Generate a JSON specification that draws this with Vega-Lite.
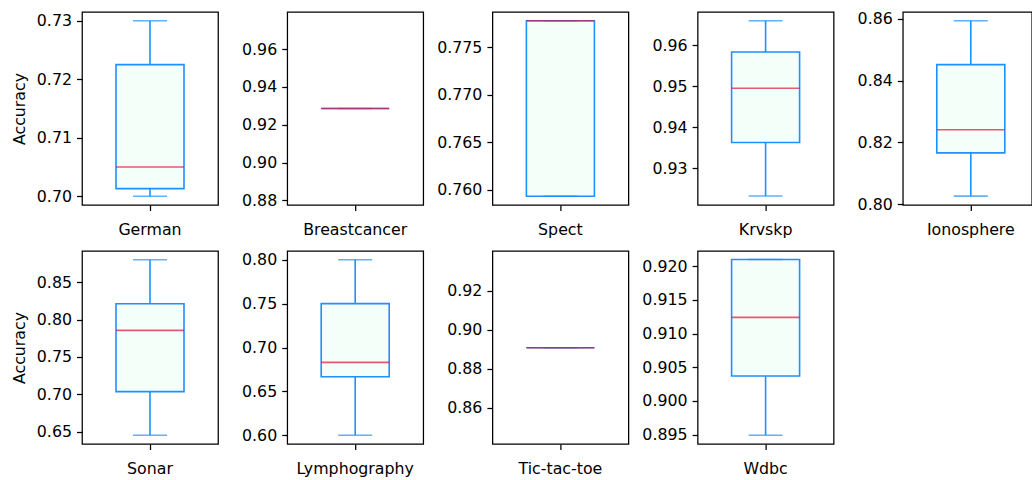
{
  "$schema": "https://vega.github.io/schema/vega-lite/v6.json",
  "background": "white",
  "padding": {"left": 10, "top": 10, "right": 0, "bottom": 0},
  "data": {"values": [
    {"dataset": "German", "min": 0.700, "q1": 0.7013, "median": 0.705, "q3": 0.7225, "max": 0.730},
    {"dataset": "Breastcancer", "min": 0.9286, "q1": 0.9286, "median": 0.9286, "q3": 0.9286, "max": 0.9286},
    {"dataset": "Spect", "min": 0.7593, "q1": 0.7593, "median": 0.7778, "q3": 0.7778, "max": 0.7778},
    {"dataset": "Krvskp", "min": 0.9233, "q1": 0.9363, "median": 0.9495, "q3": 0.9583, "max": 0.9659},
    {"dataset": "Ionosphere", "min": 0.8026, "q1": 0.8166, "median": 0.8241, "q3": 0.8452, "max": 0.8594},
    {"dataset": "Sonar", "min": 0.6452, "q1": 0.7036, "median": 0.7855, "q3": 0.8211, "max": 0.8800},
    {"dataset": "Lymphography", "min": 0.600, "q1": 0.6667, "median": 0.6830, "q3": 0.7500, "max": 0.800},
    {"dataset": "Tic-tac-toe", "min": 0.8907, "q1": 0.8907, "median": 0.8907, "q3": 0.8907, "max": 0.8907},
    {"dataset": "Wdbc", "min": 0.8949, "q1": 0.9037, "median": 0.9124, "q3": 0.9210, "max": 0.9210}
  ]},
  "config": {
    "view": {"stroke": "#000000", "strokeWidth": 1.26},
    "font": "DejaVu Sans",
    "axis": {"labelFont": "DejaVu Sans", "labelFontSize": 15.8, "labelColor": "#000000", "tickColor": "#000000", "tickSize": 5.5, "tickWidth": 1.26, "domain": false, "grid": false, "labelPadding": 5, "titleFont": "DejaVu Sans", "titleFontSize": 15.8, "titleFontWeight": "normal", "titleColor": "#000000", "titlePadding": 9},
    "axisX": {"labelPadding": 12}
  },
  "bounds": "flush",
  "align": "each",
  "columns": 5,
  "spacing": {"row": 46, "column": 69.2},
  "concat": [
      {"width": 136, "height": 193, "transform": [{"filter": "datum.dataset === 'German'"}],
       "encoding": {"x": {"field": "dataset", "type": "nominal", "scale": {"paddingInner": 0, "paddingOuter": 0}, "axis": {"title": null, "labelAngle": 0}}},
       "layer": [
        {"mark": {"type": "rule", "color": "#1E90FF", "strokeWidth": 1.6}, "encoding": {"y": {"field": "min", "type": "quantitative", "title": "Accuracy", "scale": {"domain": [0.6985, 0.7315], "zero": false, "nice": false}, "axis": {"values": [0.70, 0.71, 0.72, 0.73], "format": ".2f"}}, "y2": {"field": "q1"}}},
        {"mark": {"type": "rule", "color": "#1E90FF", "strokeWidth": 1.6}, "encoding": {"y": {"field": "q3", "type": "quantitative", "title": "Accuracy", "scale": {"domain": [0.6985, 0.7315], "zero": false, "nice": false}, "axis": {"values": [0.70, 0.71, 0.72, 0.73], "format": ".2f"}}, "y2": {"field": "max"}}},
        {"mark": {"type": "bar", "width": {"band": 0.5}, "fill": "#F5FFFA", "stroke": "#1E90FF", "strokeWidth": 1.6}, "encoding": {"y": {"field": "q1", "type": "quantitative", "title": "Accuracy", "scale": {"domain": [0.6985, 0.7315], "zero": false, "nice": false}, "axis": {"values": [0.70, 0.71, 0.72, 0.73], "format": ".2f"}}, "y2": {"field": "q3"}}},
        {"mark": {"type": "tick", "color": "#1E90FF", "size": 34, "thickness": 1.6}, "encoding": {"y": {"field": "min", "type": "quantitative", "title": "Accuracy", "scale": {"domain": [0.6985, 0.7315], "zero": false, "nice": false}, "axis": {"values": [0.70, 0.71, 0.72, 0.73], "format": ".2f"}}}},
        {"mark": {"type": "tick", "color": "#1E90FF", "size": 34, "thickness": 1.6}, "encoding": {"y": {"field": "max", "type": "quantitative", "title": "Accuracy", "scale": {"domain": [0.6985, 0.7315], "zero": false, "nice": false}, "axis": {"values": [0.70, 0.71, 0.72, 0.73], "format": ".2f"}}}},
        {"mark": {"type": "tick", "color": "#DC143C", "size": 68, "thickness": 1.6}, "encoding": {"y": {"field": "median", "type": "quantitative", "title": "Accuracy", "scale": {"domain": [0.6985, 0.7315], "zero": false, "nice": false}, "axis": {"values": [0.70, 0.71, 0.72, 0.73], "format": ".2f"}}}}
       ]},
      {"width": 136, "height": 193, "transform": [{"filter": "datum.dataset === 'Breastcancer'"}],
       "encoding": {"x": {"field": "dataset", "type": "nominal", "scale": {"paddingInner": 0, "paddingOuter": 0}, "axis": {"title": null, "labelAngle": 0}}},
       "layer": [
        {"mark": {"type": "bar", "width": {"band": 0.5}, "fill": "#F5FFFA", "stroke": "#1E90FF", "strokeWidth": 1.6}, "encoding": {"y": {"field": "q1", "type": "quantitative", "title": null, "scale": {"domain": [0.8775, 0.9797], "zero": false, "nice": false}, "axis": {"values": [0.88, 0.90, 0.92, 0.94, 0.96], "format": ".2f"}}, "y2": {"field": "q3"}}},
        {"mark": {"type": "tick", "color": "#1E90FF", "size": 34, "thickness": 1.6}, "encoding": {"y": {"field": "min", "type": "quantitative", "title": null, "scale": {"domain": [0.8775, 0.9797], "zero": false, "nice": false}, "axis": {"values": [0.88, 0.90, 0.92, 0.94, 0.96], "format": ".2f"}}}},
        {"mark": {"type": "tick", "color": "#DC143C", "size": 68, "thickness": 1.6}, "encoding": {"y": {"field": "median", "type": "quantitative", "title": null, "scale": {"domain": [0.8775, 0.9797], "zero": false, "nice": false}, "axis": {"values": [0.88, 0.90, 0.92, 0.94, 0.96], "format": ".2f"}}}}
       ]},
      {"width": 136, "height": 193, "transform": [{"filter": "datum.dataset === 'Spect'"}],
       "encoding": {"x": {"field": "dataset", "type": "nominal", "scale": {"paddingInner": 0, "paddingOuter": 0}, "axis": {"title": null, "labelAngle": 0}}},
       "layer": [
        {"mark": {"type": "bar", "width": {"band": 0.5}, "fill": "#F5FFFA", "stroke": "#1E90FF", "strokeWidth": 1.6}, "encoding": {"y": {"field": "q1", "type": "quantitative", "title": null, "scale": {"domain": [0.75838, 0.77872], "zero": false, "nice": false}, "axis": {"values": [0.760, 0.765, 0.770, 0.775], "format": ".3f"}}, "y2": {"field": "q3"}}},
        {"mark": {"type": "tick", "color": "#1E90FF", "size": 34, "thickness": 1.6}, "encoding": {"y": {"field": "min", "type": "quantitative", "title": null, "scale": {"domain": [0.75838, 0.77872], "zero": false, "nice": false}, "axis": {"values": [0.760, 0.765, 0.770, 0.775], "format": ".3f"}}}},
        {"mark": {"type": "tick", "color": "#1E90FF", "size": 34, "thickness": 1.6}, "encoding": {"y": {"field": "max", "type": "quantitative", "title": null, "scale": {"domain": [0.75838, 0.77872], "zero": false, "nice": false}, "axis": {"values": [0.760, 0.765, 0.770, 0.775], "format": ".3f"}}}},
        {"mark": {"type": "tick", "color": "#DC143C", "size": 68, "thickness": 1.6}, "encoding": {"y": {"field": "median", "type": "quantitative", "title": null, "scale": {"domain": [0.75838, 0.77872], "zero": false, "nice": false}, "axis": {"values": [0.760, 0.765, 0.770, 0.775], "format": ".3f"}}}}
       ]},
      {"width": 136, "height": 193, "transform": [{"filter": "datum.dataset === 'Krvskp'"}],
       "encoding": {"x": {"field": "dataset", "type": "nominal", "scale": {"paddingInner": 0, "paddingOuter": 0}, "axis": {"title": null, "labelAngle": 0}}},
       "layer": [
        {"mark": {"type": "rule", "color": "#1E90FF", "strokeWidth": 1.6}, "encoding": {"y": {"field": "min", "type": "quantitative", "title": null, "scale": {"domain": [0.92112, 0.96803], "zero": false, "nice": false}, "axis": {"values": [0.93, 0.94, 0.95, 0.96], "format": ".2f"}}, "y2": {"field": "q1"}}},
        {"mark": {"type": "rule", "color": "#1E90FF", "strokeWidth": 1.6}, "encoding": {"y": {"field": "q3", "type": "quantitative", "title": null, "scale": {"domain": [0.92112, 0.96803], "zero": false, "nice": false}, "axis": {"values": [0.93, 0.94, 0.95, 0.96], "format": ".2f"}}, "y2": {"field": "max"}}},
        {"mark": {"type": "bar", "width": {"band": 0.5}, "fill": "#F5FFFA", "stroke": "#1E90FF", "strokeWidth": 1.6}, "encoding": {"y": {"field": "q1", "type": "quantitative", "title": null, "scale": {"domain": [0.92112, 0.96803], "zero": false, "nice": false}, "axis": {"values": [0.93, 0.94, 0.95, 0.96], "format": ".2f"}}, "y2": {"field": "q3"}}},
        {"mark": {"type": "tick", "color": "#1E90FF", "size": 34, "thickness": 1.6}, "encoding": {"y": {"field": "min", "type": "quantitative", "title": null, "scale": {"domain": [0.92112, 0.96803], "zero": false, "nice": false}, "axis": {"values": [0.93, 0.94, 0.95, 0.96], "format": ".2f"}}}},
        {"mark": {"type": "tick", "color": "#1E90FF", "size": 34, "thickness": 1.6}, "encoding": {"y": {"field": "max", "type": "quantitative", "title": null, "scale": {"domain": [0.92112, 0.96803], "zero": false, "nice": false}, "axis": {"values": [0.93, 0.94, 0.95, 0.96], "format": ".2f"}}}},
        {"mark": {"type": "tick", "color": "#DC143C", "size": 68, "thickness": 1.6}, "encoding": {"y": {"field": "median", "type": "quantitative", "title": null, "scale": {"domain": [0.92112, 0.96803], "zero": false, "nice": false}, "axis": {"values": [0.93, 0.94, 0.95, 0.96], "format": ".2f"}}}}
       ]},
      {"width": 129, "height": 193, "transform": [{"filter": "datum.dataset === 'Ionosphere'"}],
       "encoding": {"x": {"field": "dataset", "type": "nominal", "scale": {"paddingInner": 0, "paddingOuter": 0, "range": [0, 136]}, "axis": {"title": null, "labelAngle": 0}}},
       "layer": [
        {"mark": {"type": "rule", "color": "#1E90FF", "strokeWidth": 1.6}, "encoding": {"y": {"field": "min", "type": "quantitative", "title": null, "scale": {"domain": [0.79972, 0.86224], "zero": false, "nice": false}, "axis": {"values": [0.80, 0.82, 0.84, 0.86], "format": ".2f"}}, "y2": {"field": "q1"}}},
        {"mark": {"type": "rule", "color": "#1E90FF", "strokeWidth": 1.6}, "encoding": {"y": {"field": "q3", "type": "quantitative", "title": null, "scale": {"domain": [0.79972, 0.86224], "zero": false, "nice": false}, "axis": {"values": [0.80, 0.82, 0.84, 0.86], "format": ".2f"}}, "y2": {"field": "max"}}},
        {"mark": {"type": "bar", "width": {"band": 0.5}, "fill": "#F5FFFA", "stroke": "#1E90FF", "strokeWidth": 1.6}, "encoding": {"y": {"field": "q1", "type": "quantitative", "title": null, "scale": {"domain": [0.79972, 0.86224], "zero": false, "nice": false}, "axis": {"values": [0.80, 0.82, 0.84, 0.86], "format": ".2f"}}, "y2": {"field": "q3"}}},
        {"mark": {"type": "tick", "color": "#1E90FF", "size": 34, "thickness": 1.6}, "encoding": {"y": {"field": "min", "type": "quantitative", "title": null, "scale": {"domain": [0.79972, 0.86224], "zero": false, "nice": false}, "axis": {"values": [0.80, 0.82, 0.84, 0.86], "format": ".2f"}}}},
        {"mark": {"type": "tick", "color": "#1E90FF", "size": 34, "thickness": 1.6}, "encoding": {"y": {"field": "max", "type": "quantitative", "title": null, "scale": {"domain": [0.79972, 0.86224], "zero": false, "nice": false}, "axis": {"values": [0.80, 0.82, 0.84, 0.86], "format": ".2f"}}}},
        {"mark": {"type": "tick", "color": "#DC143C", "size": 68, "thickness": 1.6}, "encoding": {"y": {"field": "median", "type": "quantitative", "title": null, "scale": {"domain": [0.79972, 0.86224], "zero": false, "nice": false}, "axis": {"values": [0.80, 0.82, 0.84, 0.86], "format": ".2f"}}}}
       ]},
      {"width": 136, "height": 193, "transform": [{"filter": "datum.dataset === 'Sonar'"}],
       "encoding": {"x": {"field": "dataset", "type": "nominal", "scale": {"paddingInner": 0, "paddingOuter": 0}, "axis": {"title": null, "labelAngle": 0}}},
       "layer": [
        {"mark": {"type": "rule", "color": "#1E90FF", "strokeWidth": 1.6}, "encoding": {"y": {"field": "min", "type": "quantitative", "title": "Accuracy", "scale": {"domain": [0.6335, 0.8917], "zero": false, "nice": false}, "axis": {"values": [0.65, 0.70, 0.75, 0.80, 0.85], "format": ".2f"}}, "y2": {"field": "q1"}}},
        {"mark": {"type": "rule", "color": "#1E90FF", "strokeWidth": 1.6}, "encoding": {"y": {"field": "q3", "type": "quantitative", "title": "Accuracy", "scale": {"domain": [0.6335, 0.8917], "zero": false, "nice": false}, "axis": {"values": [0.65, 0.70, 0.75, 0.80, 0.85], "format": ".2f"}}, "y2": {"field": "max"}}},
        {"mark": {"type": "bar", "width": {"band": 0.5}, "fill": "#F5FFFA", "stroke": "#1E90FF", "strokeWidth": 1.6}, "encoding": {"y": {"field": "q1", "type": "quantitative", "title": "Accuracy", "scale": {"domain": [0.6335, 0.8917], "zero": false, "nice": false}, "axis": {"values": [0.65, 0.70, 0.75, 0.80, 0.85], "format": ".2f"}}, "y2": {"field": "q3"}}},
        {"mark": {"type": "tick", "color": "#1E90FF", "size": 34, "thickness": 1.6}, "encoding": {"y": {"field": "min", "type": "quantitative", "title": "Accuracy", "scale": {"domain": [0.6335, 0.8917], "zero": false, "nice": false}, "axis": {"values": [0.65, 0.70, 0.75, 0.80, 0.85], "format": ".2f"}}}},
        {"mark": {"type": "tick", "color": "#1E90FF", "size": 34, "thickness": 1.6}, "encoding": {"y": {"field": "max", "type": "quantitative", "title": "Accuracy", "scale": {"domain": [0.6335, 0.8917], "zero": false, "nice": false}, "axis": {"values": [0.65, 0.70, 0.75, 0.80, 0.85], "format": ".2f"}}}},
        {"mark": {"type": "tick", "color": "#DC143C", "size": 68, "thickness": 1.6}, "encoding": {"y": {"field": "median", "type": "quantitative", "title": "Accuracy", "scale": {"domain": [0.6335, 0.8917], "zero": false, "nice": false}, "axis": {"values": [0.65, 0.70, 0.75, 0.80, 0.85], "format": ".2f"}}}}
       ]},
      {"width": 136, "height": 193, "transform": [{"filter": "datum.dataset === 'Lymphography'"}],
       "encoding": {"x": {"field": "dataset", "type": "nominal", "scale": {"paddingInner": 0, "paddingOuter": 0}, "axis": {"title": null, "labelAngle": 0}}},
       "layer": [
        {"mark": {"type": "rule", "color": "#1E90FF", "strokeWidth": 1.6}, "encoding": {"y": {"field": "min", "type": "quantitative", "title": null, "scale": {"domain": [0.59, 0.81], "zero": false, "nice": false}, "axis": {"values": [0.60, 0.65, 0.70, 0.75, 0.80], "format": ".2f"}}, "y2": {"field": "q1"}}},
        {"mark": {"type": "rule", "color": "#1E90FF", "strokeWidth": 1.6}, "encoding": {"y": {"field": "q3", "type": "quantitative", "title": null, "scale": {"domain": [0.59, 0.81], "zero": false, "nice": false}, "axis": {"values": [0.60, 0.65, 0.70, 0.75, 0.80], "format": ".2f"}}, "y2": {"field": "max"}}},
        {"mark": {"type": "bar", "width": {"band": 0.5}, "fill": "#F5FFFA", "stroke": "#1E90FF", "strokeWidth": 1.6}, "encoding": {"y": {"field": "q1", "type": "quantitative", "title": null, "scale": {"domain": [0.59, 0.81], "zero": false, "nice": false}, "axis": {"values": [0.60, 0.65, 0.70, 0.75, 0.80], "format": ".2f"}}, "y2": {"field": "q3"}}},
        {"mark": {"type": "tick", "color": "#1E90FF", "size": 34, "thickness": 1.6}, "encoding": {"y": {"field": "min", "type": "quantitative", "title": null, "scale": {"domain": [0.59, 0.81], "zero": false, "nice": false}, "axis": {"values": [0.60, 0.65, 0.70, 0.75, 0.80], "format": ".2f"}}}},
        {"mark": {"type": "tick", "color": "#1E90FF", "size": 34, "thickness": 1.6}, "encoding": {"y": {"field": "max", "type": "quantitative", "title": null, "scale": {"domain": [0.59, 0.81], "zero": false, "nice": false}, "axis": {"values": [0.60, 0.65, 0.70, 0.75, 0.80], "format": ".2f"}}}},
        {"mark": {"type": "tick", "color": "#DC143C", "size": 68, "thickness": 1.6}, "encoding": {"y": {"field": "median", "type": "quantitative", "title": null, "scale": {"domain": [0.59, 0.81], "zero": false, "nice": false}, "axis": {"values": [0.60, 0.65, 0.70, 0.75, 0.80], "format": ".2f"}}}}
       ]},
      {"width": 136, "height": 193, "transform": [{"filter": "datum.dataset === 'Tic-tac-toe'"}],
       "encoding": {"x": {"field": "dataset", "type": "nominal", "scale": {"paddingInner": 0, "paddingOuter": 0}, "axis": {"title": null, "labelAngle": 0}}},
       "layer": [
        {"mark": {"type": "bar", "width": {"band": 0.5}, "fill": "#F5FFFA", "stroke": "#1E90FF", "strokeWidth": 1.6}, "encoding": {"y": {"field": "q1", "type": "quantitative", "title": null, "scale": {"domain": [0.8413, 0.9403], "zero": false, "nice": false}, "axis": {"values": [0.86, 0.88, 0.90, 0.92], "format": ".2f"}}, "y2": {"field": "q3"}}},
        {"mark": {"type": "tick", "color": "#1E90FF", "size": 34, "thickness": 1.6}, "encoding": {"y": {"field": "min", "type": "quantitative", "title": null, "scale": {"domain": [0.8413, 0.9403], "zero": false, "nice": false}, "axis": {"values": [0.86, 0.88, 0.90, 0.92], "format": ".2f"}}}},
        {"mark": {"type": "tick", "color": "#DC143C", "size": 68, "thickness": 1.6}, "encoding": {"y": {"field": "median", "type": "quantitative", "title": null, "scale": {"domain": [0.8413, 0.9403], "zero": false, "nice": false}, "axis": {"values": [0.86, 0.88, 0.90, 0.92], "format": ".2f"}}}}
       ]},
      {"width": 136, "height": 193, "transform": [{"filter": "datum.dataset === 'Wdbc'"}],
       "encoding": {"x": {"field": "dataset", "type": "nominal", "scale": {"paddingInner": 0, "paddingOuter": 0}, "axis": {"title": null, "labelAngle": 0}}},
       "layer": [
        {"mark": {"type": "rule", "color": "#1E90FF", "strokeWidth": 1.6}, "encoding": {"y": {"field": "min", "type": "quantitative", "title": null, "scale": {"domain": [0.89359, 0.92226], "zero": false, "nice": false}, "axis": {"values": [0.895, 0.900, 0.905, 0.910, 0.915, 0.920], "format": ".3f"}}, "y2": {"field": "q1"}}},
        {"mark": {"type": "bar", "width": {"band": 0.5}, "fill": "#F5FFFA", "stroke": "#1E90FF", "strokeWidth": 1.6}, "encoding": {"y": {"field": "q1", "type": "quantitative", "title": null, "scale": {"domain": [0.89359, 0.92226], "zero": false, "nice": false}, "axis": {"values": [0.895, 0.900, 0.905, 0.910, 0.915, 0.920], "format": ".3f"}}, "y2": {"field": "q3"}}},
        {"mark": {"type": "tick", "color": "#1E90FF", "size": 34, "thickness": 1.6}, "encoding": {"y": {"field": "min", "type": "quantitative", "title": null, "scale": {"domain": [0.89359, 0.92226], "zero": false, "nice": false}, "axis": {"values": [0.895, 0.900, 0.905, 0.910, 0.915, 0.920], "format": ".3f"}}}},
        {"mark": {"type": "tick", "color": "#1E90FF", "size": 34, "thickness": 1.6}, "encoding": {"y": {"field": "max", "type": "quantitative", "title": null, "scale": {"domain": [0.89359, 0.92226], "zero": false, "nice": false}, "axis": {"values": [0.895, 0.900, 0.905, 0.910, 0.915, 0.920], "format": ".3f"}}}},
        {"mark": {"type": "tick", "color": "#DC143C", "size": 68, "thickness": 1.6}, "encoding": {"y": {"field": "median", "type": "quantitative", "title": null, "scale": {"domain": [0.89359, 0.92226], "zero": false, "nice": false}, "axis": {"values": [0.895, 0.900, 0.905, 0.910, 0.915, 0.920], "format": ".3f"}}}}
       ]}
  ]
}
